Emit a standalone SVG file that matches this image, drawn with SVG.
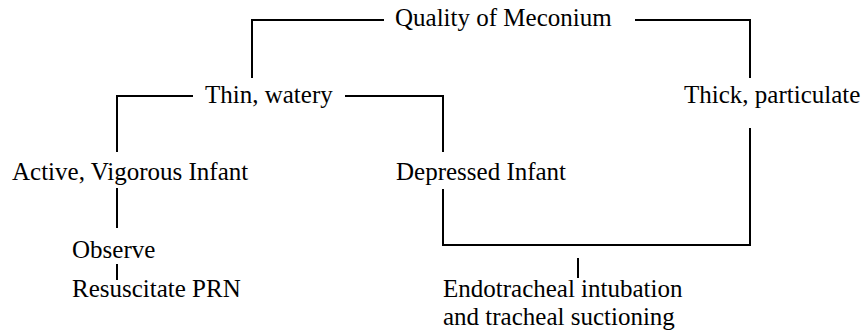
<svg xmlns="http://www.w3.org/2000/svg" width="864" height="331" viewBox="0 0 864 331">
<style>
text{font-family:"Liberation Serif","Times New Roman",serif;font-size:25px;fill:#000}
.c{stroke:#000;stroke-width:2;fill:none}
</style>
<rect width="864" height="331" fill="#fff"/>
<g id="connectors" class="c">
<path d="M252,78 V20 H384"/>
<path d="M635,20 H750 V78"/>
<path d="M117,152 V96 H193"/>
<path d="M345,96 H443 V152"/>
<path d="M117,188 V228"/>
<path d="M117,264 V280"/>
<path d="M443,189 V245 H750 V128"/>
<path d="M578,258 V278"/>
</g>
<g id="quality"><text x="395" y="26">Quality of Meconium</text></g>
<g id="thin"><text x="205" y="103">Thin, watery</text></g>
<g id="thick"><text x="684" y="103">Thick, particulate</text></g>
<g id="active"><text x="12" y="180">Active, Vigorous Infant</text></g>
<g id="depressed"><text x="396" y="180">Depressed Infant</text></g>
<g id="observe"><text x="72" y="258">Observe</text></g>
<g id="resuscitate"><text x="72" y="297">Resuscitate PRN</text></g>
<g id="intubation"><text x="443" y="297">Endotracheal intubation</text><text x="443" y="325">and tracheal suctioning</text></g>
</svg>
